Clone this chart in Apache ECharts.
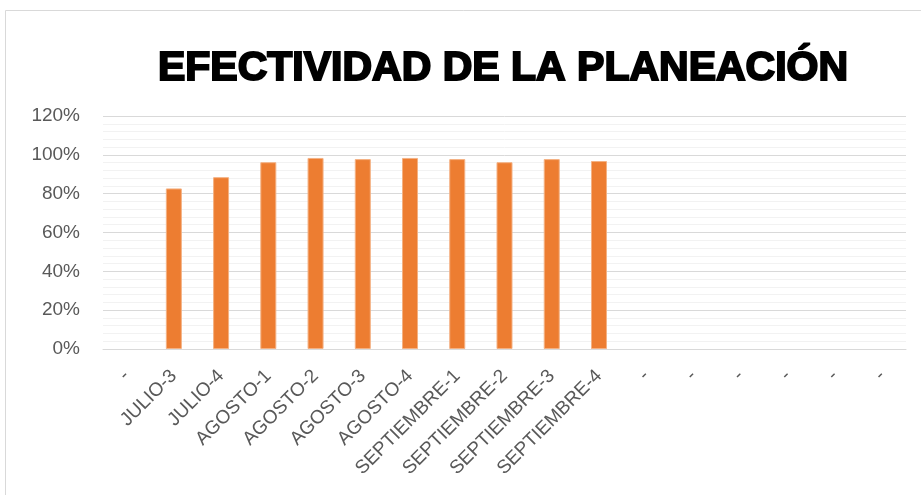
<!DOCTYPE html>
<html>
<head>
<meta charset="utf-8">
<script src="https://cdn.jsdelivr.net/npm/echarts@6/dist/echarts.min.js"></script>
<style>
html,body{margin:0;padding:0;background:#fff;}
#chart{width:921px;height:495px;}
</style>
</head>
<body>
<div id="chart"></div>
<script>
const categories = ['-', 'JULIO-3', 'JULIO-4', 'AGOSTO-1', 'AGOSTO-2', 'AGOSTO-3', 'AGOSTO-4',
  'SEPTIEMBRE-1', 'SEPTIEMBRE-2', 'SEPTIEMBRE-3', 'SEPTIEMBRE-4', '-', '-', '-', '-', '-', '-'];
const efectividad = [null, 0.827, 0.885, 0.962, 0.984, 0.978, 0.984, 0.978, 0.962, 0.978, 0.968,
  null, null, null, null, null, null];
const yTicks = [0, 0.2, 0.4, 0.6, 0.8, 1.0, 1.2];
const titleText = 'EFECTIVIDAD DE LA PLANEACIÓN';

const chart = echarts.init(document.getElementById('chart'), null, {renderer: 'canvas'});
chart.setOption({
  backgroundColor: '#ffffff',
  animation: false,
  title: {
    text: titleText,
    left: 498,
    textAlign: 'center',
    top: 43,
    textStyle: {
      fontFamily: '"Liberation Sans", Arial, sans-serif',
      fontWeight: 'bold',
      fontSize: 41,
      color: '#000',
      textBorderColor: '#000',
      textBorderWidth: 2
    }
  },
  graphic: [{
    type: 'rect',
    shape: {x: 5.5, y: 10.5, width: 930, height: 500},
    style: {fill: 'none', stroke: '#d9d9d9', lineWidth: 1},
    silent: true
  }],
  grid: {left: 103, right: 15, top: 116, bottom: 146, containLabel: false},
  xAxis: {
    type: 'category',
    data: categories,
    axisLine: {show: true, lineStyle: {color: '#d9d9d9', width: 1}},
    axisTick: {show: false},
    axisLabel: {
      interval: 0,
      rotate: 45,
      margin: 24,
      color: '#595959',
      fontSize: 19,
      fontFamily: '"Liberation Sans", Arial, sans-serif'
    }
  },
  yAxis: {
    type: 'value',
    min: yTicks[0],
    max: yTicks[yTicks.length - 1],
    interval: 0.2,
    axisLine: {show: false},
    axisTick: {show: false},
    axisLabel: {
      margin: 23,
      color: '#595959',
      fontSize: 19,
      fontFamily: '"Liberation Sans", Arial, sans-serif',
      formatter: v => Math.round(v * 100) + '%'
    },
    splitLine: {show: true, lineStyle: {color: '#d9d9d9', width: 1}},
    minorTick: {show: false, splitNumber: 5},
    minorSplitLine: {show: true, lineStyle: {color: '#f2f2f2', width: 1}}
  },
  series: [{
    type: 'bar',
    data: efectividad,
    barWidth: 16,
    itemStyle: {color: '#ED7D31', borderColor: '#F4B183', borderWidth: 1}
  }]
});
</script>
</body>
</html>
